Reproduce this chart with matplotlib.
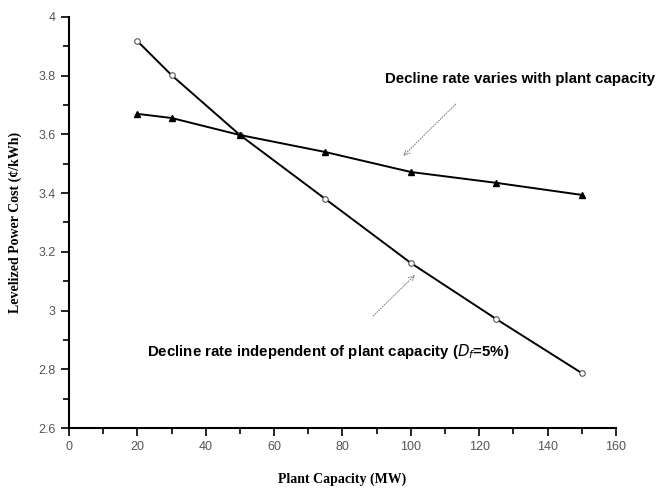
import matplotlib as mpl
mpl.use('Agg')
import matplotlib.pyplot as plt
from matplotlib.ticker import MultipleLocator

capacity = [20, 30, 50, 75, 100, 125, 150]
cost_fixed_rate = [3.918, 3.802, 3.598, 3.380, 3.162, 2.971, 2.787]
cost_varying_rate = [3.670, 3.656, 3.598, 3.540, 3.472, 3.435, 3.394]

fig = plt.figure(figsize=(6.6, 4.91), dpi=100)
ax = fig.add_axes([0.1045, 0.1283, 0.8288, 0.8371])

ax.plot(capacity, cost_fixed_rate, color='black', lw=1.4,
        marker='o', ms=4, mfc='white', mec='#555555', mew=0.8)
ax.plot(capacity, cost_varying_rate, color='black', lw=1.4,
        marker='^', ms=4, mfc='black', mec='black')

ax.set_xlim(0, 160)
ax.set_ylim(2.6, 4.0)
ax.xaxis.set_major_locator(MultipleLocator(20))
ax.xaxis.set_minor_locator(MultipleLocator(10))
ax.yaxis.set_major_locator(MultipleLocator(0.2))
ax.yaxis.set_minor_locator(MultipleLocator(0.1))
ax.yaxis.set_major_formatter(mpl.ticker.FuncFormatter(lambda v, p: '%g' % round(v, 1)))

ax.spines['top'].set_visible(False)
ax.spines['right'].set_visible(False)
for s in ('left', 'bottom'):
    ax.spines[s].set_linewidth(1.5)
ax.tick_params(which='major', direction='out', length=6, width=1.2,
               labelsize=9, labelcolor='#555555')
ax.tick_params(which='minor', direction='out', length=4, width=1.2)
for lab in ax.get_xticklabels() + ax.get_yticklabels():
    lab.set_family('Liberation Sans')

ax.set_xlabel('Plant Capacity (MW)', family='Liberation Serif',
              fontweight='bold', fontsize=10, labelpad=14)
ax.set_ylabel('Levelized Power Cost (¢/kWh)', family='Liberation Serif',
              fontweight='bold', fontsize=10, labelpad=12)

arrow = dict(arrowstyle='->', color='#777777', lw=0.7, linestyle=':')
ax.annotate('', xy=(97.2, 3.52), xytext=(113.7, 3.71), arrowprops=arrow)
ax.text(131.8, 3.789, 'Decline rate varies with plant capacity', fontsize=10.8,
        fontweight='bold', family='Liberation Sans', ha='center',
        va='center', clip_on=False)
ax.annotate('', xy=(101.8, 3.128), xytext=(88.4, 2.975), arrowprops=arrow)
ax.text(75.9, 2.862, r'Decline rate independent of plant capacity ($\mathit{D_f}$=5%)',
        fontsize=10.8, fontweight='bold', family='Liberation Sans',
        ha='center', va='center')

plt.savefig('out.png', dpi=100)
